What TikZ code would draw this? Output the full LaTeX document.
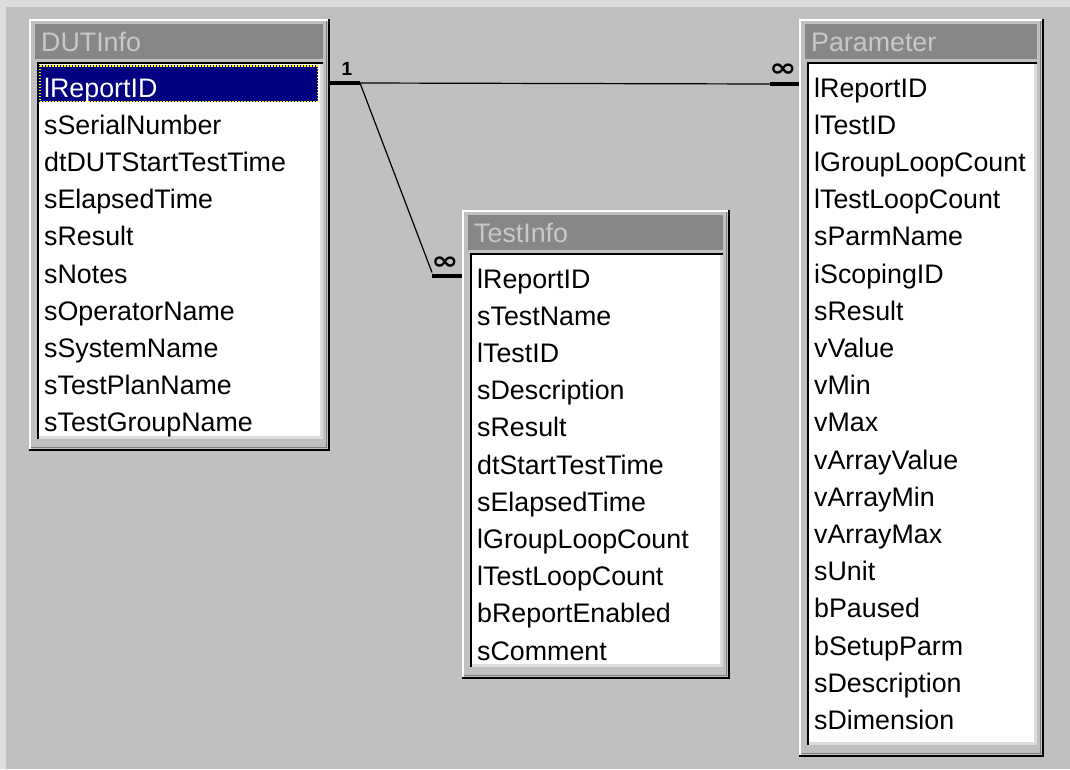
\documentclass[tikz,border=0pt]{standalone}
\usepackage{fontspec}
\setmainfont{Liberation Sans}
\newfontfamily\symfont{DejaVu Sans}
\definecolor{facegray}{HTML}{C0C0C0}
\definecolor{titlegray}{HTML}{878787}
\definecolor{titletext}{HTML}{C8C8C8}
\definecolor{shadowgray}{HTML}{808080}
\definecolor{lightedge}{HTML}{DCDCDC}
\definecolor{selnavy}{HTML}{000080}
\tikzset{
  field/.style={inner sep=0pt, anchor=base west, font=\fontsize{26.8}{30}\selectfont, text=black},
  wintitle/.style={inner sep=0pt, anchor=west, font=\fontsize{26.8}{30}\selectfont, text=titletext},
  thickbar/.style={line width=4pt, black},
  relline/.style={line width=1.2pt, black},
  onelabel/.style={inner sep=0pt, font=\bfseries\fontsize{19}{19}\selectfont},
  manylabel/.style={inner sep=0pt, font=\symfont\bfseries\fontsize{25}{25}\selectfont},
}
% #1 name, #2 x1, #3 y1, #4 x2, #5 y2, #6 title
\newcommand\dbwindow[6]{%
  \fill[facegray] (#2,#3) rectangle (#4,#5);
  \draw[white, line width=1.5pt] (#2+1,#5-2) -- (#2+1,#3+1) -- (#4-2,#3+1);
  \draw[shadowgray, line width=1.5pt] (#2+2,#5-3.5) -- (#4-3.5,#5-3.5) -- (#4-3.5,#3+2);
  \draw[black, line width=2pt] (#2,#5-1) -- (#4-1,#5-1) -- (#4-1,#3);
  \fill[titlegray] (#2+6,#3+5) rectangle (#4-7,#3+40);
  \node[wintitle] (#1-title) at (#2+12,#3+23) {#6};
  \fill[white] (#2+8,#3+43) rectangle (#4-7,#5-12);
  \draw[lightedge, line width=3pt] (#2+8,#5-13.5) -- (#4-8.5,#5-13.5) -- (#4-8.5,#3+43);
  \draw[black, line width=2pt] (#2+9,#5-12) -- (#2+9,#3+44) -- (#4-7,#3+44);
}
% #1 name, #2 x1, #3 y1, #4 first index, #5 list
\newcommand\dbrows[5]{%
  \foreach \t [count=\i from #4] in {#5}
    \node[field] (#1-\i) at (#2+15,#3+78+37.2*\i) {\t};
}
\begin{document}
\begin{tikzpicture}[x=1pt,y=-1pt]
\useasboundingbox (0,0) rectangle (1070,769);
\fill[facegray] (0,0) rectangle (1070,769);
\fill[lightedge] (0,0) rectangle (1070,7);
\fill[lightedge] (0,0) rectangle (6,769);

% DUTInfo
\dbwindow{dut}{29}{19}{330}{451}{DUTInfo}
\fill[selnavy] (39,65) rectangle (318,102);
\draw[yellow, line width=1.5pt, dash pattern=on 1.5pt off 1.5pt] (39.75,65.75) rectangle (317.25,101.25);
\node[field, text=white] (dut-0) at (44,97) {lReportID};
\dbrows{dut}{29}{19}{1}{sSerialNumber,dtDUTStartTestTime,sElapsedTime,sResult,sNotes,sOperatorName,sSystemName,sTestPlanName,sTestGroupName}

% TestInfo
\dbwindow{test}{462}{210}{730}{679}{TestInfo}
\dbrows{test}{462}{210}{0}{lReportID,sTestName,lTestID,sDescription,sResult,dtStartTestTime,sElapsedTime,lGroupLoopCount,lTestLoopCount,bReportEnabled,sComment}

% Parameter
\dbwindow{parm}{799}{19}{1044}{757}{Parameter}
\dbrows{parm}{799}{19}{0}{lReportID,lTestID,lGroupLoopCount,lTestLoopCount,sParmName,iScopingID,sResult,vValue,vMin,vMax,vArrayValue,vArrayMin,vArrayMax,sUnit,bPaused,bSetupParm,sDescription,sDimension}

% relationship anchors
\coordinate (dutEdge) at (330,83);
\coordinate (dutBarEnd) at (360,83);
\coordinate (parmBarStart) at (770,84);
\coordinate (parmEdge) at (799,84);
\coordinate (testBarStart) at (432,275.5);
\coordinate (testEdge) at (462,275.5);

% DUTInfo.lReportID -> Parameter.lReportID
\draw[thickbar] (dutEdge) -- (dutBarEnd);
\draw[relline] (dutBarEnd) -- (parmBarStart);
\draw[thickbar] (parmBarStart) -- (parmEdge);
% DUTInfo.lReportID -> TestInfo.lReportID
\draw[relline] (dutBarEnd) -- ([yshift=3pt]testBarStart);
\draw[thickbar] (testBarStart) -- (testEdge);

\node[onelabel] (one1) at (347,69) {1};
\node[manylabel] (many1) at (783,70) {\scalebox{1.3}[1]{∞}};
\node[manylabel] (many2) at (445,263) {\scalebox{1.3}[1]{∞}};
\end{tikzpicture}
\end{document}
